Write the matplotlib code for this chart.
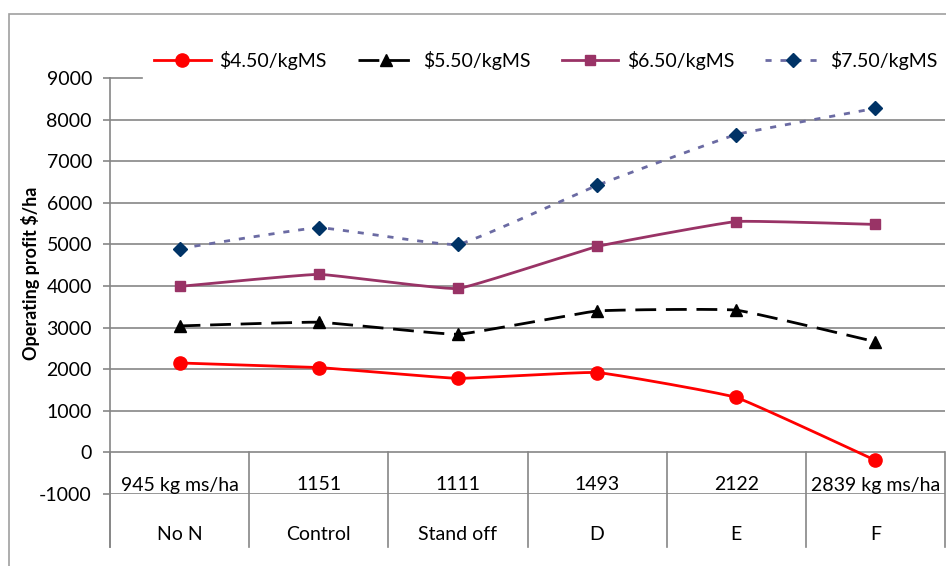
import numpy as np
import matplotlib
matplotlib.use("Agg")
import matplotlib.pyplot as plt
from matplotlib.lines import Line2D
import matplotlib.transforms as mtransforms

plt.rcParams["font.family"] = ["Lato", "DejaVu Sans"]

# ── Data ─────────────────────────────────────────────────────────────────────
groups = ["No N", "Control", "Stand off", "D", "E", "F"]
yields = ["945 kg ms/ha", "1151", "1111", "1493", "2122", "2839 kg ms/ha"]

p450 = [2150, 2040, 1780, 1920, 1320, -190]
p550 = [3040, 3130, 2840, 3400, 3420, 2660]
p650 = [3990, 4280, 3940, 4950, 5550, 5480]
p750 = [4900, 5400, 5000, 6420, 7640, 8270]

labels = ["$4.50/kgMS", "$5.50/kgMS", "$6.50/kgMS", "$7.50/kgMS"]

GRID = "#868686"
FS = 14


def smooth(y, k=0.05, n=40):
    """Mild Excel-like smoothing (cardinal spline as cubic Bezier)."""
    x = np.arange(len(y), dtype=float)
    y = np.asarray(y, dtype=float)
    pts = np.column_stack([x, y])
    out = []
    for i in range(len(pts) - 1):
        p0 = pts[max(i - 1, 0)]
        p1 = pts[i]
        p2 = pts[i + 1]
        p3 = pts[min(i + 2, len(pts) - 1)]
        c1 = p1 + (p2 - p0) * k
        c2 = p2 - (p3 - p1) * k
        t = np.linspace(0, 1, n)[:, None]
        seg = ((1 - t) ** 3) * p1 + 3 * ((1 - t) ** 2) * t * c1 \
            + 3 * (1 - t) * t ** 2 * c2 + t ** 3 * p2
        out.append(seg if i == 0 else seg[1:])
    seg = np.vstack(out)
    return seg[:, 0], seg[:, 1]


fig = plt.figure(figsize=(9.46, 5.66), dpi=100)
W, H = 946, 566
ax_left, ax_right = 110 / W, 945 / W
ax_top, ax_bot = 78, 494
ax = fig.add_axes([ax_left, (H - ax_bot) / H, ax_right - ax_left, (ax_bot - ax_top) / H])

# outer chart border
fig.add_artist(plt.Rectangle((9 / W, -0.1), 2, 1 - 14 / H + 0.1,
                             transform=fig.transFigure, fill=False,
                             edgecolor="#A0A0A0", lw=1.2))

ax.set_xlim(-0.5, 5.5)
ax.set_ylim(-1000, 9000)
yt = np.arange(-1000, 9001, 1000)

# gridlines (9000 line hidden behind the legend except a short stub)
for v in yt:
    if v == 9000:
        ax.plot([-0.5, -0.27], [v, v], color=GRID, lw=1.2, clip_on=False, zorder=1)
    else:
        ax.axhline(v, color=GRID, lw=1.2, zorder=1)

styles = [
    dict(color="#FF0000", marker="o", ms=9.5, mfc="#FF0000", dashes=None),
    dict(color="#000000", marker="^", ms=8.5, mfc="#000000", dashes=(7.5, 3.5)),
    dict(color="#993366", marker="s", ms=7.5, mfc="#993366", dashes=None),
    dict(color="#6B6BA3", marker="D", ms=7, mfc="#003366", dashes=(2.2, 3.2)),
]

handles = []
for vals, st, lab in zip([p450, p550, p650, p750], styles, labels):
    xs, ys = smooth(vals)
    line, = ax.plot(xs, ys, color=st["color"], lw=2.0, zorder=3)
    if st["dashes"]:
        line.set_dashes(st["dashes"])
    ax.plot(range(len(vals)), vals, ls="none", marker=st["marker"], ms=st["ms"],
            mfc=st["mfc"], mec=st["mfc"], zorder=4, clip_on=False)
    h = Line2D([], [], color=st["color"], lw=2.0, marker=st["marker"], ms=st["ms"],
               mfc=st["mfc"], mec=st["mfc"])
    if st["dashes"]:
        h.set_dashes(st["dashes"])
    handles.append(h)

# axes styling
for s in ["top", "right", "bottom"]:
    ax.spines[s].set_visible(False)
ax.spines["left"].set_color(GRID)
ax.spines["left"].set_linewidth(1.2)
ax.set_yticks(yt)
ax.set_yticklabels([str(v) for v in yt], fontsize=FS)
ax.tick_params(axis="y", length=5, width=1.2, color=GRID, pad=8)
ax.set_xticks([])
ax.set_ylabel("Operating profit $/ha", fontsize=13, fontweight="bold")
ax.yaxis.set_label_coords(-0.084, 0.53)

# multi-level category axis
trans = mtransforms.blended_transform_factory(ax.transData, ax.transAxes)
y0 = 0.1                       # value 0 in axes fraction
ybot = (ax_bot - 547) / (ax_bot - ax_top)
for b in np.arange(-0.5, 6.0, 1.0):
    ax.plot([b, b], [y0, ybot], color=GRID, lw=1.2, transform=trans, clip_on=False, zorder=2)
ax.plot([-0.5, -0.5], [0, ybot], color=GRID, lw=1.2, transform=trans, clip_on=False, zorder=2)
for i, (g, yl) in enumerate(zip(groups, yields)):
    ax.text(i, (ax_bot - 485) / (ax_bot - ax_top), yl, transform=trans,
            ha="center", va="center", fontsize=FS)
    ax.text(i, (ax_bot - 534) / (ax_bot - ax_top), g, transform=trans,
            ha="center", va="center", fontsize=FS)

fig.legend(handles=handles, labels=labels, ncol=4, loc="center",
           bbox_to_anchor=(546 / W, 1 - 60 / H), frameon=False, fontsize=FS,
           handlelength=2.9, handletextpad=0.45, columnspacing=1.6)

fig.savefig("out.png", dpi=100)
